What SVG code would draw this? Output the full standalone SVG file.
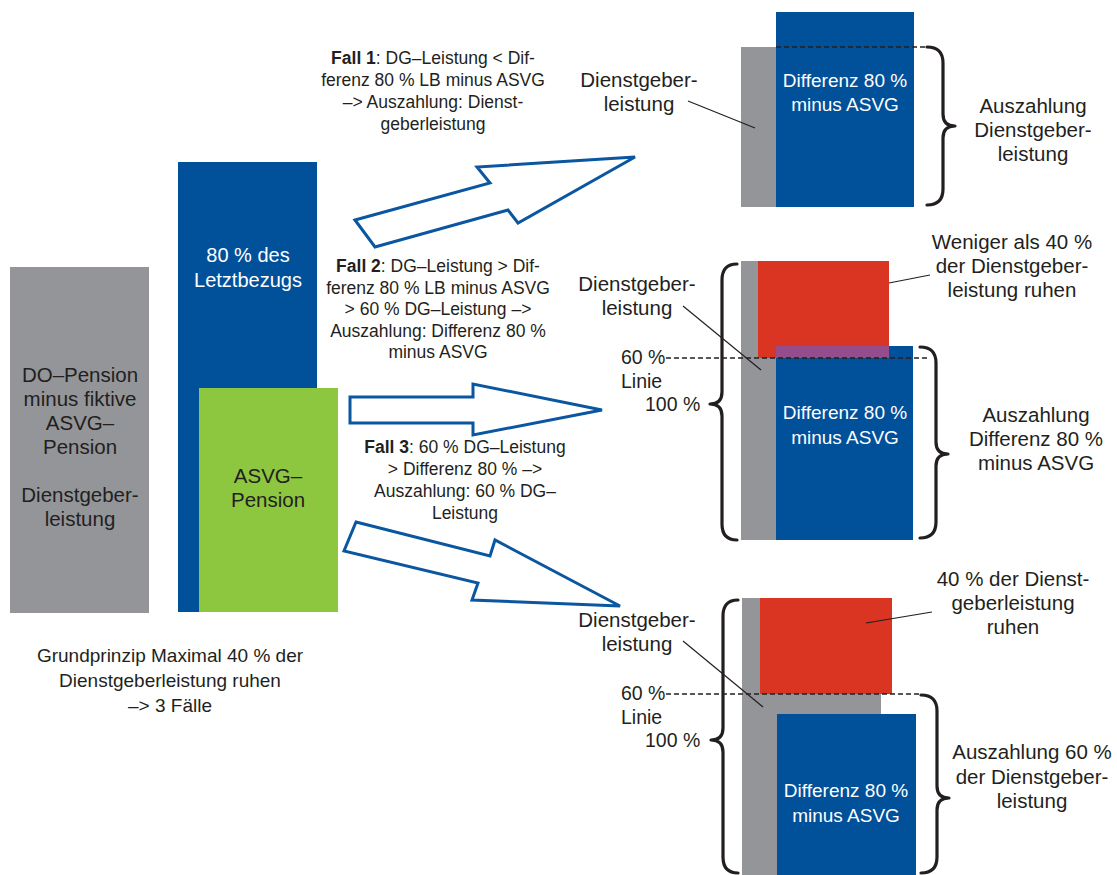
<svg xmlns="http://www.w3.org/2000/svg" width="1117" height="875" viewBox="0 0 1117 875">
<style>
text{font-family:"Liberation Sans",Arial,sans-serif;fill:#231f20}
.lbl{font-size:20.5px;text-anchor:middle}
.box{font-size:20.5px;text-anchor:middle}
.wht{font-size:19px;text-anchor:middle;fill:#ffffff}
.fall{font-size:17.5px;text-anchor:middle}
.fall tspan.b{font-weight:bold}
.pct{font-size:19.5px}
.cap{font-size:19px;text-anchor:middle}
.gray{fill:#939598}
.blue{fill:#00509a}
.green{fill:#8dc63f}
.red{fill:#d93522}
.purple{fill:#944c8a}
.arrow{fill:#ffffff;stroke:#0a56a0;stroke-width:3;stroke-linejoin:miter}
.brace{fill:none;stroke:#231f20;stroke-width:3.2;stroke-linecap:round;stroke-linejoin:round}
.dash{fill:none;stroke:#231f20;stroke-width:1.3;stroke-dasharray:5 3}
.lead{fill:none;stroke:#231f20;stroke-width:1.2}
</style>
<rect width="1117" height="875" fill="#ffffff"/>

<g id="do-pension">
<rect class="gray" x="10" y="267" width="139" height="346"/>
<text class="box"><tspan x="80" y="382">DO–Pension</tspan><tspan x="80" y="406">minus fiktive</tspan><tspan x="80" y="430">ASVG–</tspan><tspan x="80" y="454">Pension</tspan><tspan x="80" y="502">Dienstgeber-</tspan><tspan x="80" y="526">leistung</tspan></text>
</g>

<g id="letztbezug">
<rect class="blue" x="178" y="162" width="139" height="450"/>
<text class="wht" style="font-size:20px"><tspan x="248" y="262">80 % des</tspan><tspan x="248" y="287">Letztbezugs</tspan></text>
</g>

<g id="asvg-pension">
<rect class="green" x="199" y="388" width="139" height="224"/>
<text class="box"><tspan x="268" y="483">ASVG–</tspan><tspan x="268" y="507">Pension</tspan></text>
</g>

<g id="caption">
<text class="cap"><tspan x="170" y="662">Grundprinzip Maximal 40 % der</tspan><tspan x="170" y="687">Dienstgeberleistung ruhen</tspan><tspan x="170" y="712">–&gt; 3 Fälle</tspan></text>
</g>

<g id="connectors">
<polygon class="arrow" points="355,220 490,183 477,167 635,157 518,223 508,210 375,247"/>
<polygon class="arrow" points="350,397 473,397 473,384 602,410 473,435 473,423 350,423"/>
<polygon class="arrow" points="356,522 490,556 495,540 620,606 472,600 478,583 344,551"/>
</g>

<g id="fall1">
<text class="fall"><tspan x="433" y="64"><tspan class="b">Fall 1</tspan>: DG–Leistung &lt; Dif-</tspan><tspan x="433" y="86">ferenz 80 % LB minus ASVG</tspan><tspan x="433" y="108">–&gt; Auszahlung: Dienst-</tspan><tspan x="433" y="130">geberleistung</tspan></text>
</g>

<g id="fall2">
<text class="fall"><tspan x="438" y="272"><tspan class="b">Fall 2</tspan>: DG–Leistung &gt; Dif-</tspan><tspan x="438" y="293.5">ferenz 80 % LB minus ASVG</tspan><tspan x="438" y="315">&gt; 60 % DG–Leistung –&gt;</tspan><tspan x="438" y="336.5">Auszahlung: Differenz 80 %</tspan><tspan x="438" y="358">minus ASVG</tspan></text>
</g>

<g id="fall3">
<text class="fall"><tspan x="465" y="453"><tspan class="b">Fall 3</tspan>: 60 % DG–Leistung</tspan><tspan x="465" y="475">&gt; Differenz 80 % –&gt;</tspan><tspan x="465" y="497">Auszahlung: 60 % DG–</tspan><tspan x="465" y="519">Leistung</tspan></text>
</g>

<g id="panel1">
<rect class="gray" x="741" y="47" width="35" height="160"/>
<rect class="blue" x="776" y="12" width="138" height="195"/>
<text class="wht"><tspan x="845" y="87">Differenz 80 %</tspan><tspan x="845" y="111">minus ASVG</tspan></text>
<line class="dash" x1="776" y1="47" x2="927" y2="47"/>
<path class="brace" d="M927,47 Q943,47 943,63 L943,114 Q943,126 955,126 Q943,126 943,138 L943,189 Q943,205 927,205"/>
<text class="lbl"><tspan x="639" y="87">Dienstgeber-</tspan><tspan x="639" y="111">leistung</tspan></text>
<line class="lead" x1="688" y1="101" x2="755" y2="128"/>
<text class="lbl"><tspan x="1033" y="113">Auszahlung</tspan><tspan x="1033" y="137">Dienstgeber-</tspan><tspan x="1033" y="161">leistung</tspan></text>
</g>

<g id="panel2">
<rect class="gray" x="741" y="261" width="35" height="279"/>
<rect class="red" x="758" y="261" width="131" height="97"/>
<rect class="blue" x="776" y="346" width="137" height="194"/>
<rect class="purple" x="776" y="346" width="113" height="12"/>
<text class="wht"><tspan x="845" y="419">Differenz 80 %</tspan><tspan x="845" y="444">minus ASVG</tspan></text>
<line class="dash" x1="666" y1="358" x2="930" y2="358"/>
<path class="brace" d="M737,264 Q722,264 722,280 L722,392 Q722,404 710,404 Q722,404 722,416 L722,524 Q722,540 737,540"/>
<path class="brace" d="M920,347 Q936,347 936,363 L936,442 Q936,454 948,454 Q936,454 936,466 L936,522 Q936,538 920,538"/>
<text class="lbl"><tspan x="637" y="291">Dienstgeber-</tspan><tspan x="637" y="315">leistung</tspan></text>
<line class="lead" x1="683" y1="306" x2="761" y2="370"/>
<text class="pct"><tspan x="621" y="364">60 %</tspan><tspan x="621" y="388">Linie</tspan><tspan x="645" y="411">100 %</tspan></text>
<text class="lbl"><tspan x="1012" y="249">Weniger als 40 %</tspan><tspan x="1012" y="273">der Dienstgeber-</tspan><tspan x="1012" y="297">leistung ruhen</tspan></text>
<line class="lead" x1="889" y1="283" x2="930" y2="275"/>
<text class="lbl"><tspan x="1036" y="422">Auszahlung</tspan><tspan x="1036" y="446">Differenz 80 %</tspan><tspan x="1036" y="470">minus ASVG</tspan></text>
</g>

<g id="panel3">
<rect class="gray" x="742" y="598" width="139" height="116"/>
<rect class="gray" x="742" y="598" width="35" height="277"/>
<rect class="red" x="760" y="598" width="132" height="96"/>
<rect class="blue" x="777" y="714" width="139" height="161"/>
<text class="wht"><tspan x="846" y="797">Differenz 80 %</tspan><tspan x="846" y="822">minus ASVG</tspan></text>
<line class="dash" x1="666" y1="694" x2="922" y2="694"/>
<path class="brace" d="M738,600 Q723,600 723,616 L723,728 Q723,740 711,740 Q723,740 723,752 L723,857 Q723,873 738,873"/>
<path class="brace" d="M921,695 Q937,695 937,711 L937,786 Q937,798 949,798 Q937,798 937,810 L937,857 Q937,873 921,873"/>
<text class="lbl"><tspan x="637" y="627">Dienstgeber-</tspan><tspan x="637" y="651">leistung</tspan></text>
<line class="lead" x1="683" y1="641" x2="763" y2="707"/>
<text class="pct"><tspan x="621" y="700">60 %</tspan><tspan x="621" y="724">Linie</tspan><tspan x="645" y="747">100 %</tspan></text>
<text class="lbl"><tspan x="1013" y="586">40 % der Dienst-</tspan><tspan x="1013" y="610">geberleistung</tspan><tspan x="1013" y="634">ruhen</tspan></text>
<line class="lead" x1="866" y1="623" x2="932" y2="612"/>
<text class="lbl"><tspan x="1032" y="759">Auszahlung 60 %</tspan><tspan x="1032" y="784">der Dienstgeber-</tspan><tspan x="1032" y="808">leistung</tspan></text>
</g>
</svg>
